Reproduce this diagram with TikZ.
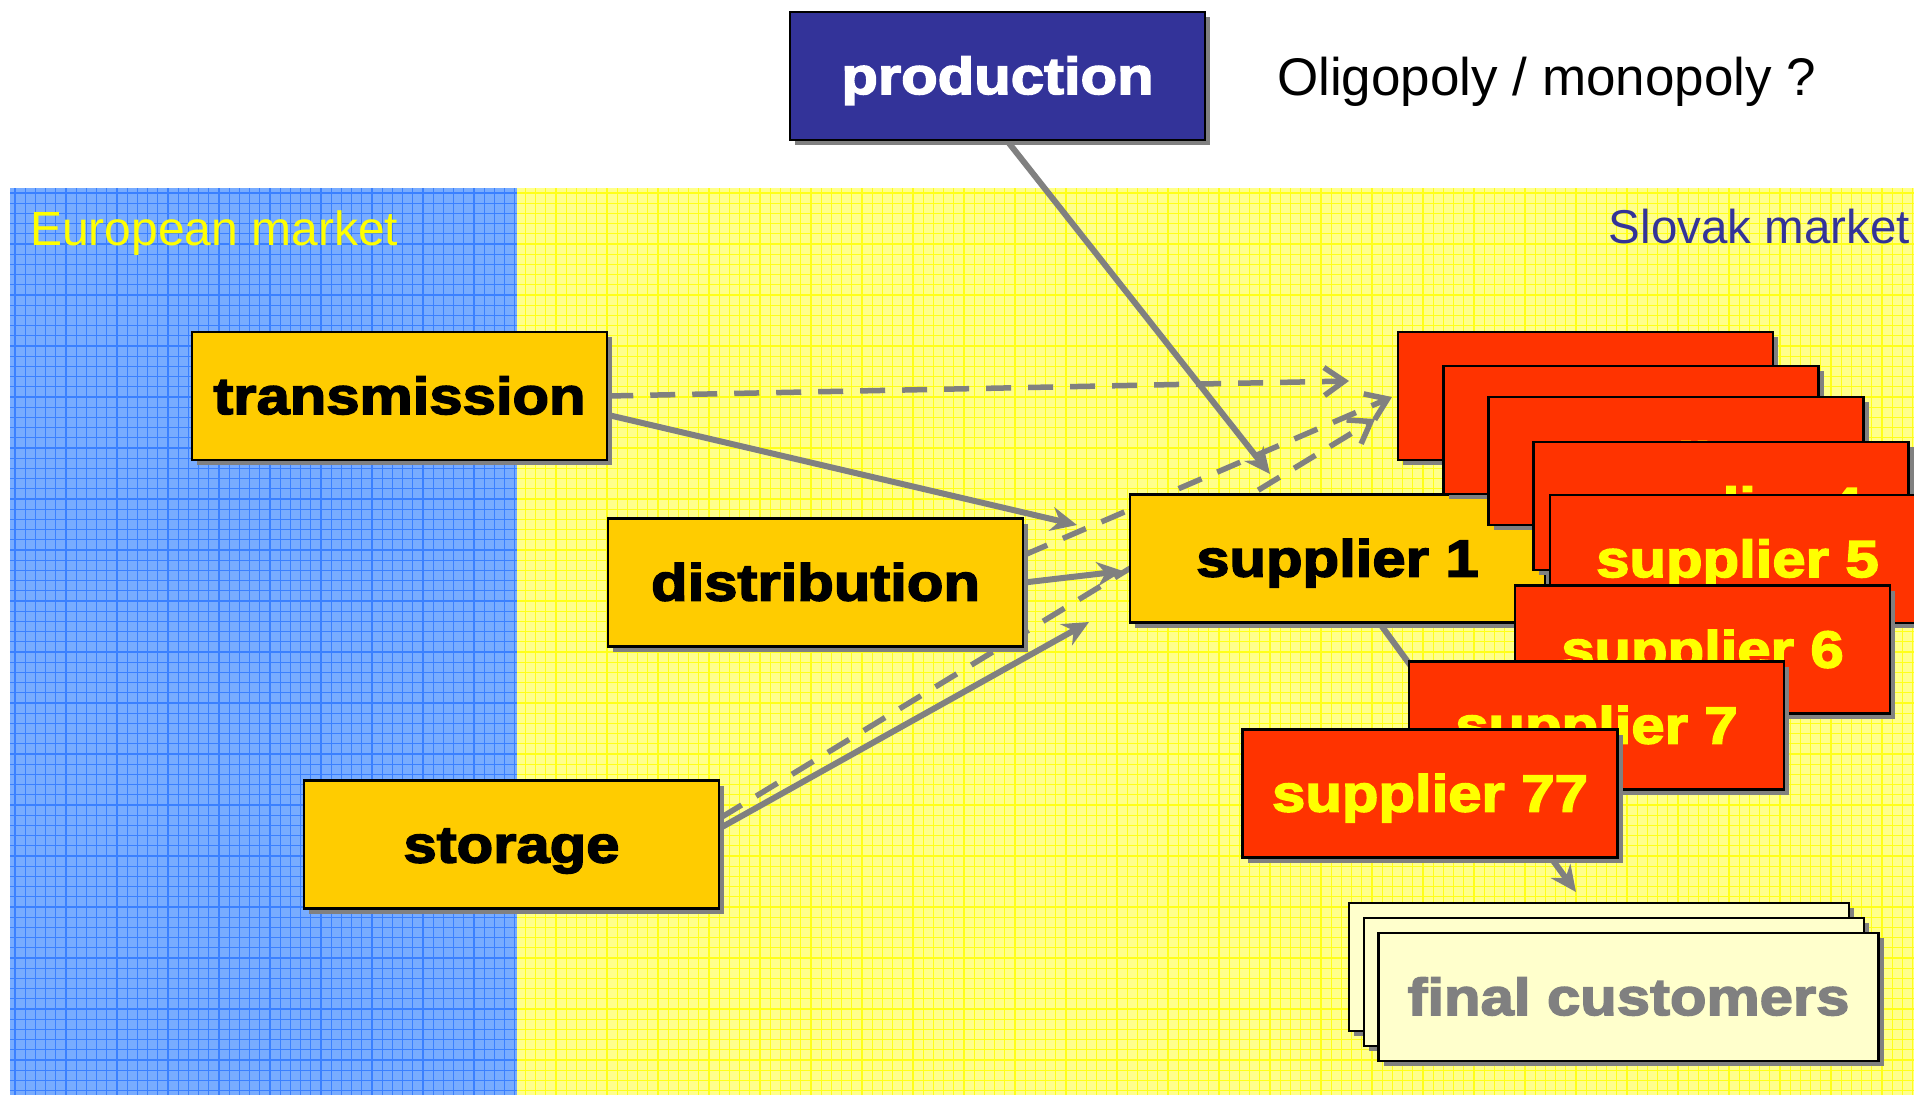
\documentclass[tikz,border=0pt]{standalone}
\usepackage{fontspec}
\setmainfont{Liberation Sans}
\newfontfamily\boxfont{Liberation Sans Bold}[FakeStretch=1.15,FakeBold=3]
\newfontfamily\oligfont{Liberation Sans}
\usetikzlibrary{arrows.meta,shadows}
\definecolor{bgblue}{HTML}{78ACFF}
\definecolor{gridblue}{HTML}{3A80FF}
\definecolor{bgyellow}{HTML}{FFFF8C}
\definecolor{gridyellow}{HTML}{FFFF1A}
\definecolor{boxyellow}{HTML}{FFCC00}
\definecolor{boxred}{HTML}{FF3300}
\definecolor{txtyellow}{HTML}{FFFF00}
\definecolor{prodblue}{HTML}{333399}
\definecolor{custfill}{HTML}{FFFFCC}
\definecolor{linegray}{HTML}{808080}
\pgfdeclarelayer{bg}
\pgfdeclarelayer{conn}
\pgfsetlayers{bg,conn,main}
\begin{document}
\begin{tikzpicture}[x=1pt,y=-1pt,
  box/.style={draw=black, line width=2.5pt, minimum width=415pt, minimum height=128pt,
    inner sep=0pt, text height=41pt, text depth=5pt,
    font=\boxfont\fontsize{52}{60}\selectfont,
    drop shadow={shadow xshift=5pt, shadow yshift=-5pt, fill=linegray, opacity=1, draw=none}},
  ybox/.style={box, fill=boxyellow, text=black},
  rbox/.style={box, fill=boxred, text=txtyellow, minimum width=375pt},
  pbox/.style={box, fill=prodblue, text=white},
  cbox/.style={box, fill=custfill, text=linegray, minimum width=500pt},
  solidarrow/.style={draw=linegray, line width=6pt, -{Stealth[length=26pt,width=24pt]}},
  dasharrow/.style={draw=linegray, line width=5.5pt, dash pattern=on 25pt off 17pt,
    -{Straight Barb[length=20pt,width=28pt]}},
  lbl/.style={inner sep=0pt, anchor=base west}
]
\useasboundingbox (0,0) rectangle (1914,1095);
\begin{pgfonlayer}{bg}
  \fill[white] (0,0) rectangle (1914,1095);
  \fill[bgblue] (10,188) rectangle (517,1095);
  \fill[bgyellow] (517,188) rectangle (1914,1095);
  \begin{scope}[line width=1.3pt]
    \foreach \x in {15,25.2,...,517} \draw[gridblue] (\x,188) -- (\x,1095);
    \foreach \y in {193,203.2,...,1095} \draw[gridblue] (10,\y) -- (517,\y);
    \foreach \x in {525.4,535.6,...,1914} \draw[gridyellow] (\x,188) -- (\x,1095);
    \foreach \y in {193,203.2,...,1095} \draw[gridyellow] (517,\y) -- (1914,\y);
  \end{scope}
\end{pgfonlayer}

\node[lbl, text=txtyellow, font=\fontsize{48}{56}\selectfont] (eu) at (30,245) {European market};
\node[lbl, anchor=base east, text=prodblue, font=\fontsize{47.5}{56}\selectfont] (sk) at (1910,243) {Slovak market};
\node[lbl, text=black, font=\oligfont\fontsize{53}{60}\selectfont] (olig) at (1277,95) {Oligopoly / monopoly ?};

\node[pbox] (prod) at (997.5,76) {production};
\node[ybox] (trans) at (399.5,396) {transmission};
\node[ybox] (dist) at (815.5,582.5) {distribution};
\node[ybox] (stor) at (511.5,844.5) {storage};
\node[ybox] (sup1) at (1337.5,558.5) {supplier 1};
\node[rbox] (s2) at (1585.5,396) {};
\node[rbox] (s2b) at (1631,430) {};
\node[rbox] (s3) at (1676,461) {supplier 3};
\node[rbox] (s4) at (1721,506) {supplier 4};
\node[rbox] (s5) at (1737.5,559) {supplier 5};
\node[rbox] (s6) at (1702.5,649.5) {supplier 6};
\node[rbox] (s7) at (1596.5,725.5) {supplier 7};
\node[rbox] (s77) at (1430,793.5) {supplier 77};
\node[cbox] (fc3) at (1599,967) {};
\node[cbox] (fc2) at (1614,982) {};
\node[cbox] (fc) at (1628.5,997) {final customers};

\coordinate (t1) at (1349,381);
\coordinate (t2) at (1077,525);
\coordinate (t3) at (1270,474);
\coordinate (t4) at (1392,397);
\coordinate (t5) at (1123,571);
\coordinate (t6) at (1375,419);
\coordinate (t7) at (1089,622);
\coordinate (t8) at (1576,892);

\begin{pgfonlayer}{conn}
  \draw[dasharrow] (trans.east) -- (t1);
  \draw[solidarrow] ([yshift=-19pt]trans.east) -- (t2);
  \draw[solidarrow] ([xshift=10pt]prod.south) -- (t3);
  \draw[dasharrow] ([yshift=27.5pt]dist.east) -- (t4);
  \draw[solidarrow] (dist.east) -- (t5);
  \draw[dasharrow] ([yshift=26.5pt]stor.east) -- (t6);
  \draw[solidarrow] ([yshift=16.5pt]stor.east) -- (t7);
  \draw[solidarrow] ([xshift=42.5pt]sup1.south) -- (t8);
\end{pgfonlayer}
\end{tikzpicture}
\end{document}
